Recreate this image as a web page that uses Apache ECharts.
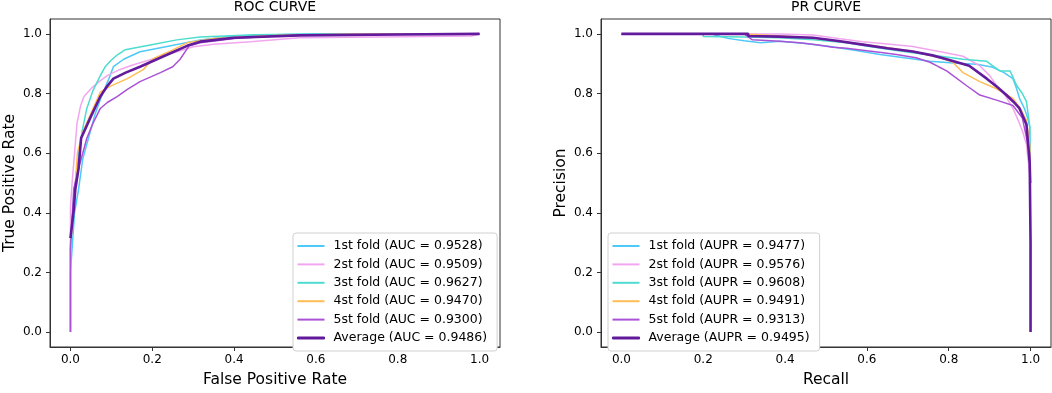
<!DOCTYPE html>
<html>
<head>
<meta charset="utf-8">
<script src="https://cdn.jsdelivr.net/npm/echarts@6/dist/echarts.min.js"></script>
<style>
  html, body { margin: 0; padding: 0; background: #fff; }
  #chart { width: 1052px; height: 393px; }
</style>
</head>
<body>
<div id="chart"></div>
<script>
// tick values shared by both plots
var tickValues = [0, 0.2, 0.4, 0.6, 0.8, 1.0];

// legend labels
var foldNames = ["1st fold", "2st fold", "3st fold", "4st fold", "5st fold", "Average"];
var aucValues = ["0.9528", "0.9509", "0.9627", "0.9470", "0.9300", "0.9486"];
var auprValues = ["0.9477", "0.9576", "0.9608", "0.9491", "0.9313", "0.9495"];

// ROC curves: [fpr, tpr]
var rocFold1 = [[0,0],[0,0.2],[0.005,0.3],[0.01,0.4],[0.02,0.48],[0.03,0.58],[0.049,0.675],[0.06,0.73],[0.073,0.78],[0.094,0.85],[0.105,0.89],[0.13,0.915],[0.17,0.94],[0.236,0.958],[0.317,0.98],[0.4,0.993],[0.5,0.997],[0.6,1],[1,1]];
var rocFold2 = [[0,0],[0,0.42],[0.004,0.5],[0.01,0.6],[0.016,0.70],[0.025,0.76],[0.033,0.79],[0.053,0.82],[0.07,0.84],[0.09,0.86],[0.12,0.88],[0.15,0.895],[0.187,0.91],[0.236,0.93],[0.3,0.957],[0.35,0.965],[0.44,0.974],[0.56,0.987],[0.75,0.99],[0.98,0.993],[1,1]];
var rocFold3 = [[0,0],[0,0.3],[0.008,0.45],[0.017,0.565],[0.028,0.67],[0.04,0.75],[0.055,0.81],[0.073,0.86],[0.085,0.89],[0.098,0.91],[0.115,0.93],[0.134,0.947],[0.195,0.963],[0.26,0.98],[0.317,0.99],[0.45,0.997],[0.6,1],[1,1]];
var rocFold4 = [[0,0],[0,0.28],[0.006,0.4],[0.012,0.5],[0.017,0.6],[0.03,0.67],[0.049,0.73],[0.073,0.805],[0.085,0.815],[0.098,0.825],[0.139,0.85],[0.178,0.88],[0.2,0.915],[0.24,0.94],[0.285,0.97],[0.35,0.985],[0.5,0.995],[0.7,1],[1,1]];
var rocFold5 = [[0,0],[0,0.28],[0.004,0.38],[0.008,0.48],[0.02,0.55],[0.04,0.65],[0.055,0.7],[0.073,0.75],[0.09,0.77],[0.114,0.79],[0.14,0.815],[0.17,0.84],[0.22,0.87],[0.25,0.89],[0.268,0.915],[0.29,0.96],[0.317,0.97],[0.4,0.985],[0.5,0.993],[0.6,0.997],[1,1]];
var rocAvg = [[0,0.315],[0.008,0.41],[0.012,0.48],[0.02,0.55],[0.026,0.65],[0.049,0.72],[0.073,0.79],[0.09,0.825],[0.105,0.85],[0.135,0.87],[0.17,0.89],[0.236,0.93],[0.285,0.96],[0.317,0.974],[0.4,0.987],[0.56,0.995],[0.8,0.998],[1,1]];

// PR curves: [recall, precision]
var prFold1 = [[0,1],[0.22,1],[0.26,0.985],[0.3,0.977],[0.34,0.97],[0.387,0.975],[0.45,0.968],[0.51,0.958],[0.57,0.945],[0.632,0.931],[0.7,0.918],[0.754,0.908],[0.82,0.902],[0.869,0.898],[0.908,0.888],[0.935,0.87],[0.957,0.85],[0.965,0.82],[0.973,0.784],[0.985,0.75],[0.993,0.718],[0.998,0.69],[1,0.5]];
var prFold2 = [[0,1],[0.387,1],[0.468,0.996],[0.53,0.985],[0.59,0.974],[0.65,0.966],[0.712,0.958],[0.78,0.94],[0.835,0.925],[0.876,0.893],[0.9,0.86],[0.917,0.827],[0.94,0.79],[0.957,0.75],[0.97,0.71],[0.98,0.675],[0.99,0.63],[1,0.5]];
var prFold3 = [[0,1],[0.2,1],[0.2,0.991],[0.3,0.99],[0.387,0.987],[0.47,0.98],[0.55,0.97],[0.63,0.953],[0.712,0.937],[0.78,0.925],[0.835,0.915],[0.893,0.908],[0.91,0.89],[0.925,0.876],[0.95,0.876],[0.966,0.827],[0.98,0.8],[0.99,0.773],[0.998,0.69],[1,0.5]];
var prFold4 = [[0,1],[0.3,1],[0.387,0.993],[0.468,0.987],[0.59,0.965],[0.712,0.942],[0.78,0.92],[0.81,0.905],[0.835,0.87],[0.876,0.84],[0.917,0.816],[0.957,0.784],[0.975,0.75],[0.99,0.71],[0.998,0.63],[1,0.5]];
var prFold5 = [[0,1],[0.3,1],[0.32,0.98],[0.387,0.975],[0.436,0.97],[0.476,0.964],[0.517,0.955],[0.55,0.952],[0.64,0.937],[0.672,0.931],[0.72,0.92],[0.754,0.905],[0.775,0.89],[0.795,0.876],[0.843,0.827],[0.876,0.795],[0.917,0.778],[0.957,0.76],[0.98,0.718],[0.998,0.6],[1,0.5]];
var prAvg = [[0,1],[0.31,1],[0.31,0.993],[0.387,0.991],[0.468,0.987],[0.53,0.976],[0.59,0.964],[0.65,0.952],[0.712,0.941],[0.76,0.928],[0.795,0.915],[0.85,0.893],[0.893,0.85],[0.92,0.82],[0.941,0.795],[0.96,0.77],[0.973,0.75],[0.99,0.696],[0.998,0.565],[1,0.3],[1,0]];

var colors = ["#4fc9f7", "#f2a6f0", "#4ddccf", "#ffbd55", "#aa52d6", "#631a9c"];
var font = "DejaVu Sans";

var rocData = [rocFold1, rocFold2, rocFold3, rocFold4, rocFold5, rocAvg];
var prData = [prFold1, prFold2, prFold3, prFold4, prFold5, prAvg];

function fmt(v) { return v.toFixed(1); }

function makeX(idx, name) {
  return {
    type: "value", gridIndex: idx, min: -0.05, max: 1.05,
    name: name, nameLocation: "middle", nameGap: 25,
    nameTextStyle: { fontSize: 15.5, color: "#000", fontFamily: font },
    axisLine: { show: true, onZero: false, lineStyle: { color: "#333", width: 1 } },
    axisTick: { show: true, inside: false, length: 4, lineStyle: { color: "#333" }, customValues: tickValues },
    axisLabel: { margin: 7, fontSize: 12, color: "#000", fontFamily: font, customValues: tickValues, formatter: fmt },
    splitLine: { show: false }
  };
}
function makeY(idx, name) {
  return {
    type: "value", gridIndex: idx, min: -0.05, max: 1.05,
    name: name, nameLocation: "middle", nameGap: 32, nameRotate: 90,
    nameTextStyle: { fontSize: 15.5, color: "#000", fontFamily: font },
    axisLine: { show: true, onZero: false, lineStyle: { color: "#333", width: 1 } },
    axisTick: { show: true, inside: false, length: 4, lineStyle: { color: "#333" }, customValues: tickValues },
    axisLabel: { margin: 8, fontSize: 12, color: "#000", fontFamily: font, customValues: tickValues, formatter: fmt },
    splitLine: { show: false }
  };
}
function makeLegend(names, left) {
  return {
    orient: "vertical", left: left, top: 233,
    data: names.map(function (n, i) {
      // average line is drawn thicker
      return i === 5
        ? { name: n, icon: "rect", itemStyle: { borderWidth: 1, borderColor: colors[i] } }
        : { name: n, icon: "rect" };
    }),
    backgroundColor: "#fff", borderColor: "#d0d0d0", borderWidth: 1, borderRadius: 3,
    padding: [6, 10, 6, 4], itemWidth: 27, itemHeight: 2, itemGap: 4.4,
    textStyle: { fontSize: 12.5, lineHeight: 14, color: "#000", fontFamily: font, padding: [0, 0, 0, 4] }
  };
}

var series = [];
var rocNames = [], prNames = [];
foldNames.forEach(function (f, i) {
  var rn = f + " (AUC = " + aucValues[i] + ")";
  var pn = f + " (AUPR = " + auprValues[i] + ")";
  rocNames.push(rn); prNames.push(pn);
  var w = i === 5 ? 2.6 : 1.5;
  series.push({ name: rn, type: "line", xAxisIndex: 0, yAxisIndex: 0, data: rocData[i],
    symbol: "none", color: colors[i], lineStyle: { width: w, color: colors[i] }, z: i === 5 ? 5 : 2 });
  series.push({ name: pn, type: "line", xAxisIndex: 1, yAxisIndex: 1, data: prData[i],
    symbol: "none", color: colors[i], lineStyle: { width: w, color: colors[i] }, z: i === 5 ? 5 : 2 });
});

var chart = echarts.init(document.getElementById("chart"));
chart.setOption({
  animation: false,
  title: [
    { text: "ROC CURVE", left: 275, top: 0, padding: 0, textAlign: "center",
      textStyle: { fontSize: 14, fontWeight: "normal", color: "#000", fontFamily: font } },
    { text: "PR CURVE", left: 826, top: 0, padding: 0, textAlign: "center",
      textStyle: { fontSize: 14, fontWeight: "normal", color: "#000", fontFamily: font } }
  ],
  grid: [
    { left: 50, top: 19, width: 450, height: 334, show: true, borderColor: "#333", borderWidth: 1 },
    { left: 601, top: 19, width: 450, height: 334, show: true, borderColor: "#333", borderWidth: 1 }
  ],
  xAxis: [makeX(0, "False Positive Rate"), makeX(1, "Recall")],
  yAxis: [makeY(0, "True Positive Rate"), makeY(1, "Precision")],
  legend: [makeLegend(rocNames, 293), makeLegend(prNames, 608)],
  series: series
});
</script>
</body>
</html>
